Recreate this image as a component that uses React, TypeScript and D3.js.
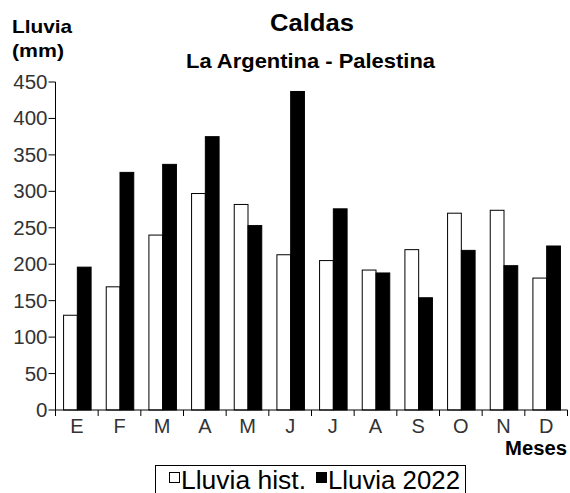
import React from "react";
import * as d3 from "d3";

const months = ["E", "F", "M", "A", "M ", "J", "J ", "A ", "S", "O", "N", "D"];
const monthLabels = ["E", "F", "M", "A", "M", "J", "J", "A", "S", "O", "N", "D"];
const histValues = [130, 169, 240, 297, 282, 213, 205, 192, 220, 270, 274, 181];
const values2022 = [196, 326, 337, 375, 253, 437, 276, 188, 154, 219, 198, 225];
const yTicks = [0, 50, 100, 150, 200, 250, 300, 350, 400, 450];
const seriesNames = ["Lluvia hist.", "Lluvia 2022"];

export default function App() {
  const W = 570, H = 493;
  const left = 55.5, right = 567.5, top = 82, bottom = 410;
  const x = d3.scaleBand<string>().domain(months).range([left, right]).padding(0);
  const y = d3.scaleLinear().domain([0, 450]).range([bottom, top]);
  const bw = x.bandwidth();
  const groupW = bw * 0.645;
  const x1 = d3.scaleBand<string>().domain(seriesNames).range([0, groupW]).padding(0);
  const font = "'Liberation Sans', Arial, sans-serif";
  const boundaries = d3.range(months.length + 1).map((i) => left + i * bw);

  return (
    <svg width={W} height={H} style={{ position: "absolute", left: 0, top: 0, background: "#fff" }} fontFamily={font}>
      <rect x={0} y={0} width={W} height={H} fill="#fff" />
      {/* Titles */}
      <text x={312} y={31} textAnchor="middle" fontSize={23} fontWeight="bold" fill="#000" textLength={84} lengthAdjust="spacingAndGlyphs">Caldas</text>
      <text x={310.5} y={68} textAnchor="middle" fontSize={21} fontWeight="bold" fill="#000" textLength={249} lengthAdjust="spacingAndGlyphs">La Argentina - Palestina</text>
      <text x={12} y={33} fontSize={19} fontWeight="bold" fill="#000" textLength={60} lengthAdjust="spacingAndGlyphs">Lluvia</text>
      <text x={12} y={57} fontSize={19} fontWeight="bold" fill="#000" textLength={52} lengthAdjust="spacingAndGlyphs">(mm)</text>

      {/* Bars */}
      {months.map((m, i) => {
        const gx = (x(m) as number) + (bw - groupW) / 2 + 0.5;
        return (
          <g key={m}>
            <rect x={gx + (x1(seriesNames[0]) as number)} y={y(histValues[i])} width={x1.bandwidth()} height={bottom - y(histValues[i])} fill="#fff" stroke="#000" strokeWidth={1} />
            <rect x={gx + (x1(seriesNames[1]) as number)} y={y(values2022[i])} width={x1.bandwidth()} height={bottom - y(values2022[i])} fill="#000" stroke="#000" strokeWidth={1} />
          </g>
        );
      })}

      {/* Y axis */}
      <line x1={left} x2={left} y1={top} y2={bottom} stroke="#000" strokeWidth={1} />
      {yTicks.map((t) => (
        <g key={t}>
          <line x1={left - 7} x2={left} y1={y(t)} y2={y(t)} stroke="#000" strokeWidth={1} />
          <text x={left - 8} y={y(t) + 7} textAnchor="end" fontSize={20.5} fill="#333">{t}</text>
        </g>
      ))}

      {/* X axis */}
      <line x1={left} x2={right} y1={bottom} y2={bottom} stroke="#000" strokeWidth={1} />
      {boundaries.map((b, i) => (
        <line key={i} x1={b} x2={b} y1={bottom} y2={bottom + 6} stroke="#000" strokeWidth={1} />
      ))}
      {months.map((m, i) => (
        <text key={m} x={(x(m) as number) + bw / 2} y={433} textAnchor="middle" fontSize={20} fill="#333">{monthLabels[i]}</text>
      ))}
      <text x={567} y={455} textAnchor="end" fontSize={20} fontWeight="bold" fill="#000" textLength={62} lengthAdjust="spacingAndGlyphs">Meses</text>

      {/* Legend */}
      <rect x={155.5} y={465.5} width={310} height={40} fill="#fff" stroke="#000" strokeWidth={1} />
      <rect x={169.5} y={472.5} width={10} height={10} fill="#fff" stroke="#000" strokeWidth={1} />
      <text x={181} y={488.5} fontSize={25} fill="#000" textLength={125} lengthAdjust="spacingAndGlyphs">{seriesNames[0]}</text>
      <rect x={316.5} y={472.5} width={10} height={10} fill="#000" stroke="#000" strokeWidth={1} />
      <text x={328} y={488.5} fontSize={25} fill="#000" textLength={132} lengthAdjust="spacingAndGlyphs">{seriesNames[1]}</text>
    </svg>
  );
}
